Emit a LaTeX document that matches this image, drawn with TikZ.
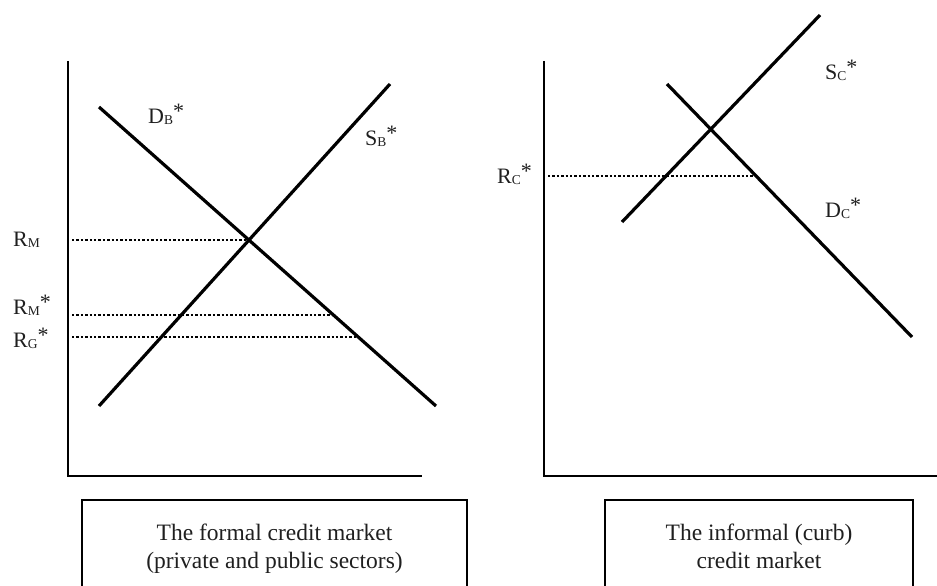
\documentclass[tikz,border=0pt]{standalone}
\usepackage{fontspec}
\setmainfont{Liberation Serif}
\newcommand{\lbl}[3]{#1\raisebox{-1.5pt}{\fontsize{13.5}{13.5}\selectfont #2}\raisebox{5pt}{#3}}
\begin{document}
\begin{tikzpicture}[x=1pt,y=-1pt,
  axis/.style={line width=1.5pt},
  curve/.style={line width=3.2pt},
  dotline/.style={line width=2.4pt, dash pattern=on 2.3pt off 2.1pt},
  lab/.style={anchor=base west, inner sep=0pt, font=\fontsize{22}{26}\selectfont, text=black!88},
  boxtext/.style={anchor=base, inner sep=0pt, font=\fontsize{23.5}{28}\selectfont, text=black!88},
  framebox/.style={draw, line width=1.5pt, anchor=north, minimum height=120pt, inner sep=0pt}]
\clip (0,0) rectangle (937,586);
% left chart
\coordinate (lyt) at (68,61);
\coordinate (lo) at (68,476);
\coordinate (lxe) at (422,476);
\draw[axis] (lyt) -- (lo) -- (lxe);
\coordinate (db1) at (99,107);
\coordinate (db2) at (436,406);
\coordinate (sb1) at (99,406);
\coordinate (sb2) at (390,84);
\draw[curve] (db1) -- (db2);
\draw[curve] (sb1) -- (sb2);
\coordinate (rm0) at (72,240);
\coordinate (rm1) at (249,240);
\coordinate (rms0) at (72,315);
\coordinate (rms1) at (333,315);
\coordinate (rg0) at (72,337);
\coordinate (rg1) at (358,337);
\draw[dotline] (rm0) -- (rm1);
\draw[dotline] (rms0) -- (rms1);
\draw[dotline] (rg0) -- (rg1);
\node[lab] (lrm) at (13,246) {\lbl{R}{M}{}};
\node[lab] (lrms) at (13,314) {\lbl{R}{M}{*}};
\node[lab] (lrg) at (13,347) {\lbl{R}{G}{*}};
\node[lab] (ldb) at (148,123) {\lbl{D}{B}{*}};
\node[lab] (lsb) at (365,145) {\lbl{S}{B}{*}};
% right chart
\coordinate (ryt) at (544,61);
\coordinate (ro) at (544,476);
\coordinate (rxe) at (940,476);
\draw[axis] (ryt) -- (ro) -- (rxe);
\coordinate (sc1) at (622,222);
\coordinate (sc2) at (820,15);
\coordinate (dc1) at (667,84);
\coordinate (dc2) at (912,337);
\draw[curve] (sc1) -- (sc2);
\draw[curve] (dc1) -- (dc2);
\coordinate (rc0) at (548,176);
\coordinate (rc1) at (756,176);
\draw[dotline] (rc0) -- (rc1);
\node[lab] (lrc) at (497,183) {\lbl{R}{C}{*}};
\node[lab] (lsc) at (825,79) {\lbl{S}{C}{*}};
\node[lab] (ldc) at (825,217) {\lbl{D}{C}{*}};
% boxes
\node[framebox, minimum width=385pt] (fbox) at (274.5,499) {};
\node[boxtext] (ft1) at (274.5,540) {The formal credit market};
\node[boxtext] (ft2) at (274.5,568) {(private and public sectors)};
\node[framebox, minimum width=308pt] (ibox) at (759,499) {};
\node[boxtext] (it1) at (759,540) {The informal (curb)};
\node[boxtext] (it2) at (759,568) {credit market};
\end{tikzpicture}
\end{document}
